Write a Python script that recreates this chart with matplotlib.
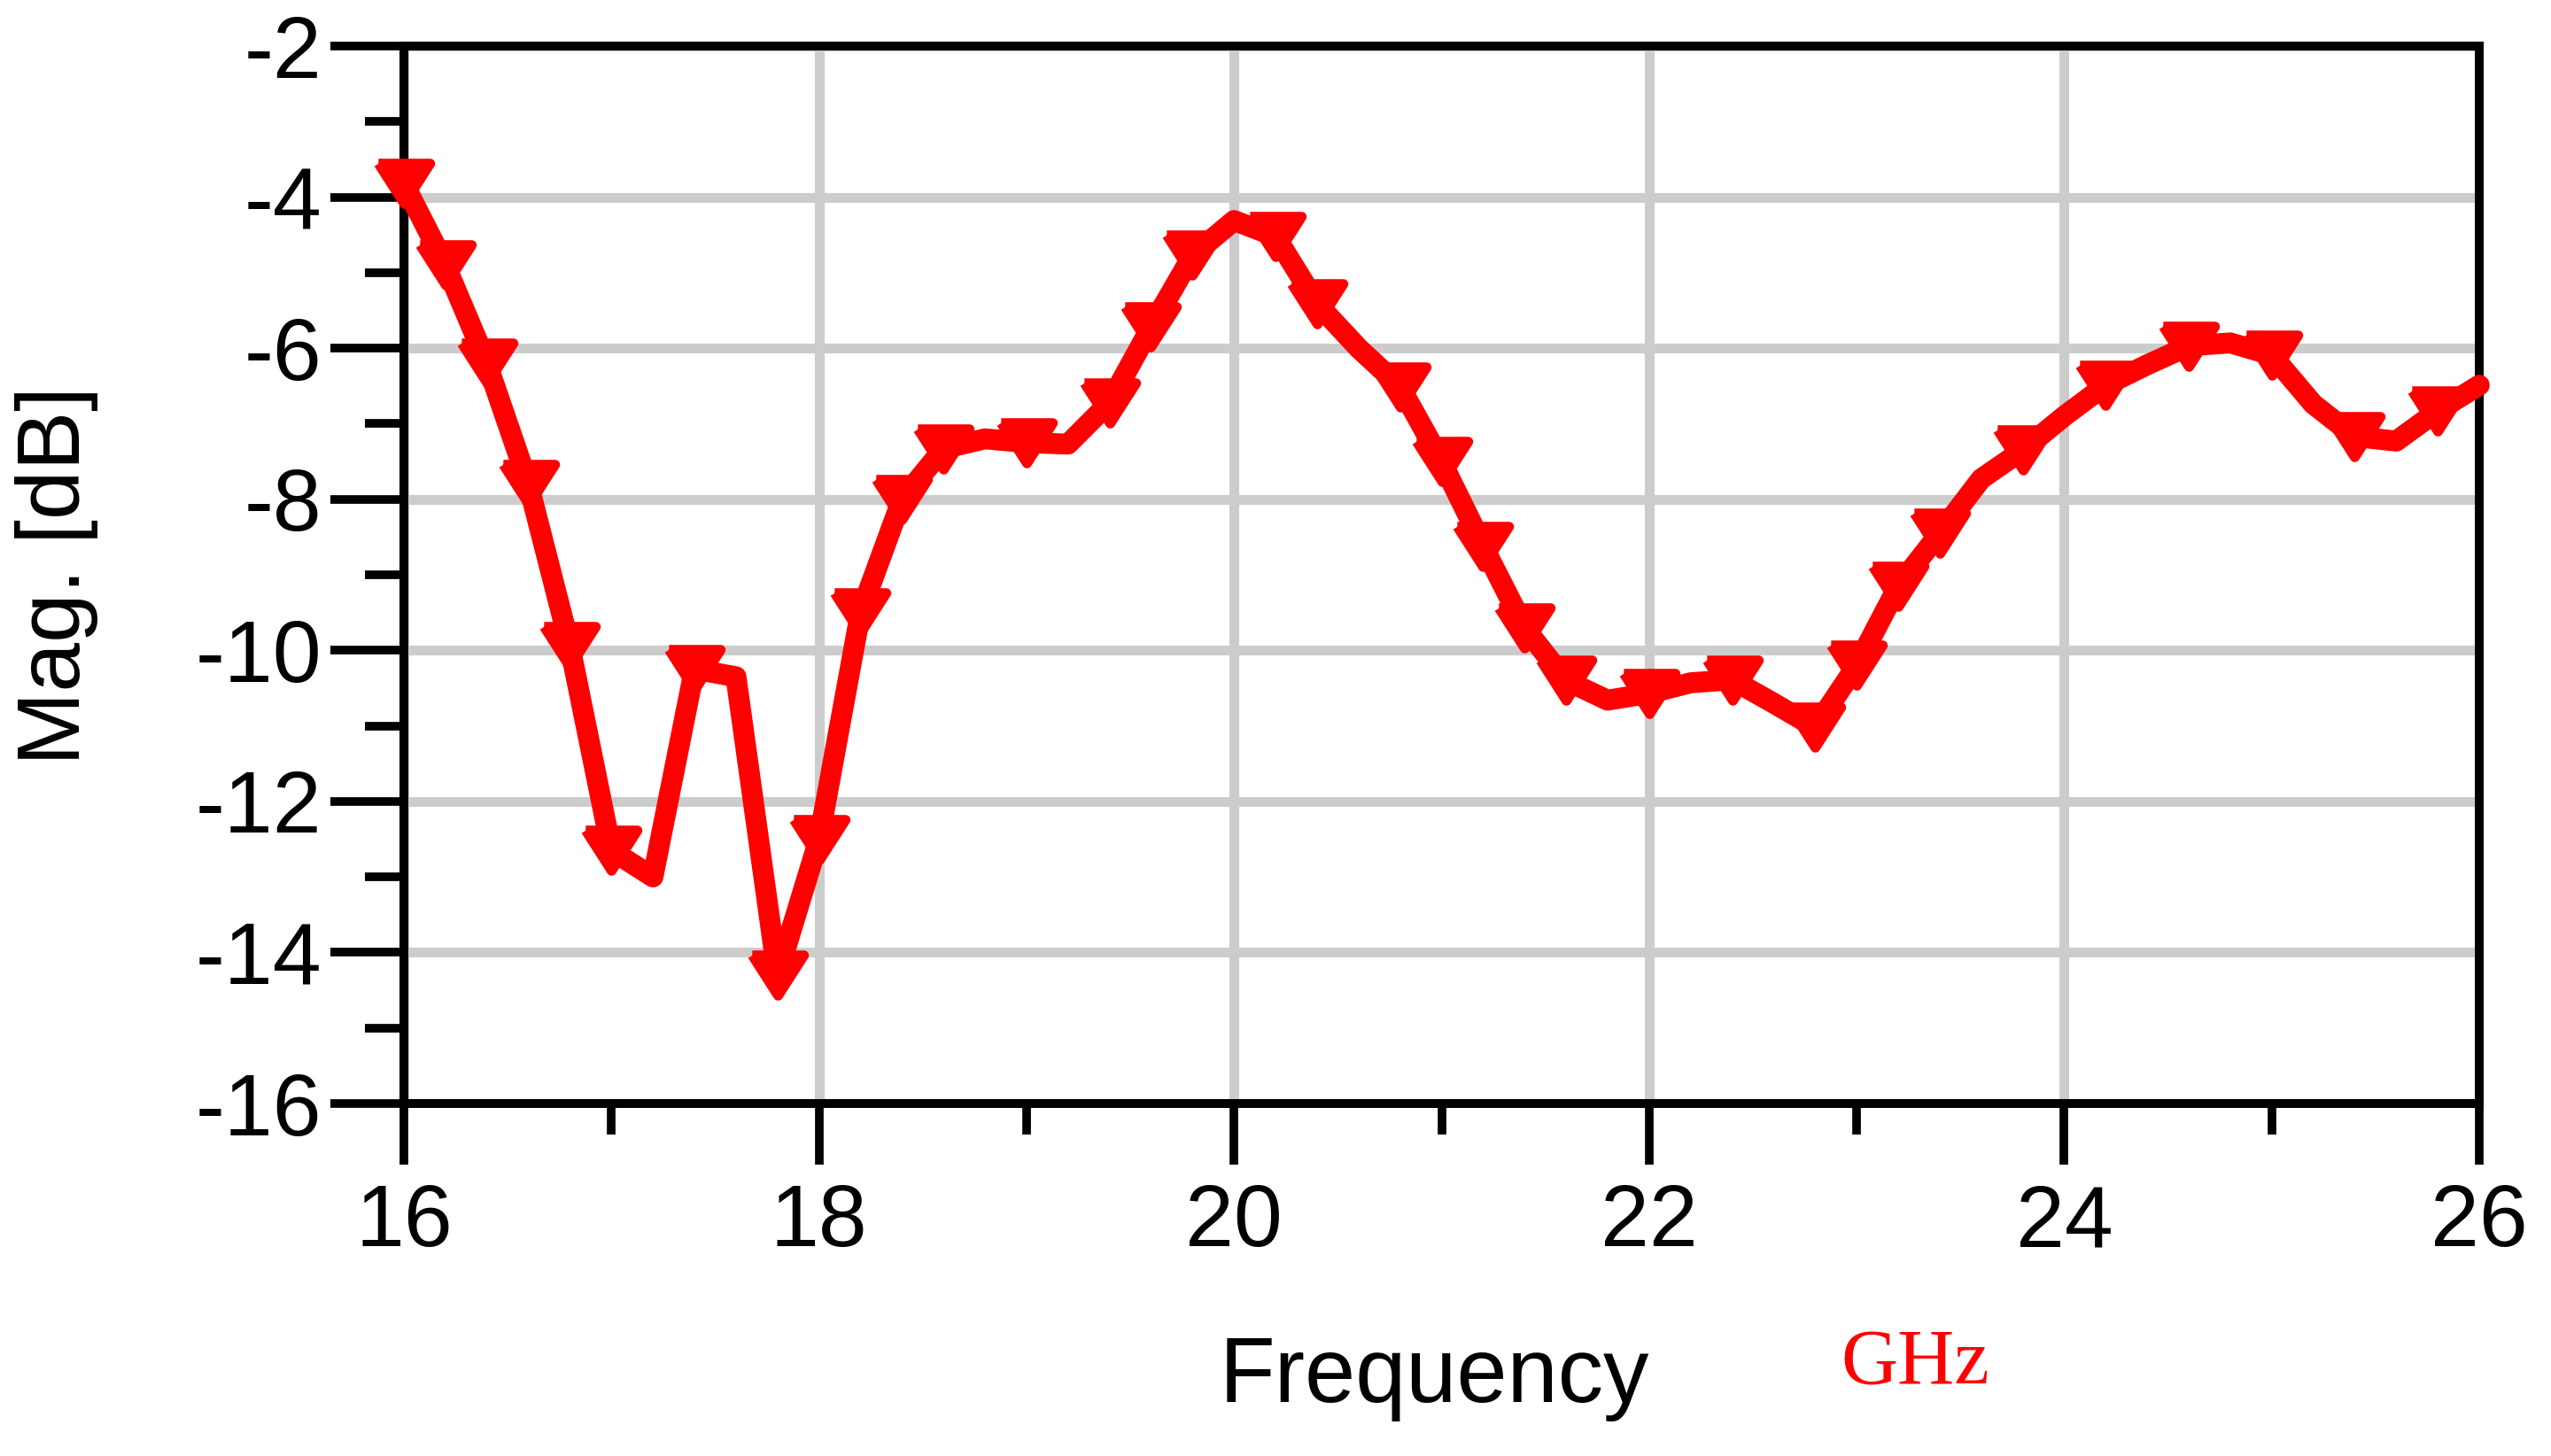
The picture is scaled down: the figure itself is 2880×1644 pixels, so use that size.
import matplotlib
matplotlib.use("Agg")
import matplotlib.pyplot as plt
from matplotlib.markers import MarkerStyle
from matplotlib.ticker import MultipleLocator, FixedLocator

# frequency sweep (GHz) and magnitude (dB)
freq_ghz = [16.0, 16.2, 16.4, 16.6, 16.8, 17.0, 17.2, 17.4, 17.6, 17.8,
            18.0, 18.2, 18.4, 18.6, 18.8, 19.0, 19.2, 19.4, 19.6, 19.8,
            20.0, 20.2, 20.4, 20.6, 20.8, 21.0, 21.2, 21.4, 21.6, 21.8,
            22.0, 22.2, 22.4, 22.6, 22.8, 23.0, 23.2, 23.4, 23.6, 23.8,
            24.0, 24.2, 24.4, 24.6, 24.8, 25.0, 25.2, 25.4, 25.6, 25.8,
            26.0]
mag_db = [-3.82, -4.90, -6.20, -7.80, -9.95, -12.65, -13.00, -10.25, -10.35, -14.30,
          -12.50, -9.50, -8.00, -7.33, -7.20, -7.25, -7.27, -6.72, -5.72, -4.77,
          -4.31, -4.52, -5.41, -6.00, -6.51, -7.50, -8.62, -9.70, -10.40, -10.66,
          -10.57, -10.43, -10.39, -10.70, -11.02, -10.20, -9.15, -8.45, -7.73, -7.35,
          -6.90, -6.49, -6.22, -5.97, -5.93, -6.09, -6.74, -7.17, -7.23, -6.83,
          -6.49]
# sweep points that carry a triangle marker
marker_idx = [0, 1, 2, 3, 4, 5, 7, 9, 10, 11, 12, 13, 15, 17, 18, 19, 21, 22,
              24, 25, 26, 27, 28, 30, 32, 34, 35, 36, 37, 39, 41, 43, 45, 47, 49]

x_ticks = [16, 18, 20, 22, 24, 26]
y_ticks = [-16, -14, -12, -10, -8, -6, -4, -2]

x_label = "Frequency"
x_unit = "GHz"
y_label = "Mag. [dB]"

plt.rcParams["font.family"] = ["Liberation Sans", "DejaVu Sans"]
plt.rcParams["axes.unicode_minus"] = False

W, H = 2880, 1644
fig = plt.figure(figsize=(W / 100, H / 100), dpi=100)
ax = fig.add_axes([456 / W, 1 - 1246 / H, (2799 - 456) / W, (1246 - 52) / H])

tri = MarkerStyle([(-1, 0.78), (1, 0.78), (0, -0.78), (-1, 0.78)], joinstyle="round")
ax.plot(freq_ghz, mag_db, color="#ff0000", lw=17, solid_joinstyle="round",
        solid_capstyle="round", marker=tri, markersize=42, markeredgewidth=8,
        markerfacecolor="#ff0000", markeredgecolor="#ff0000",
        markevery=marker_idx, clip_on=False, zorder=3)

ax.set_xlim(16, 26)
ax.set_ylim(-16, -2)
ax.xaxis.set_major_locator(FixedLocator(x_ticks))
ax.yaxis.set_major_locator(FixedLocator(y_ticks))
ax.xaxis.set_minor_locator(MultipleLocator(1))
ax.yaxis.set_minor_locator(MultipleLocator(1))

ax.grid(True, which="major", color="#cccccc", lw=8)
ax.set_axisbelow(True)
for sp in ax.spines.values():
    sp.set_linewidth(7.2)
    sp.set_color("black")

ax.tick_params(axis="both", which="both", direction="out", width=7, color="black",
               labelsize=71)
ax.tick_params(axis="y", which="major", length=60, pad=7)
ax.tick_params(axis="y", which="minor", length=32)
ax.tick_params(axis="x", which="major", length=50, pad=15)
ax.tick_params(axis="x", which="minor", length=25)

fig.text(1377 / W, 1 - 1583 / H, x_label, fontsize=74, ha="left", va="baseline")
fig.text(2078 / W, 1 - 1562 / H, x_unit, fontsize=64, color="#ff0000",
         family=["Liberation Serif", "DejaVu Serif"], ha="left", va="baseline")
fig.text(64 / W, 1 - 650 / H, y_label, fontsize=72, rotation=90,
         ha="center", va="center")

fig.savefig("out.png", dpi=100)
